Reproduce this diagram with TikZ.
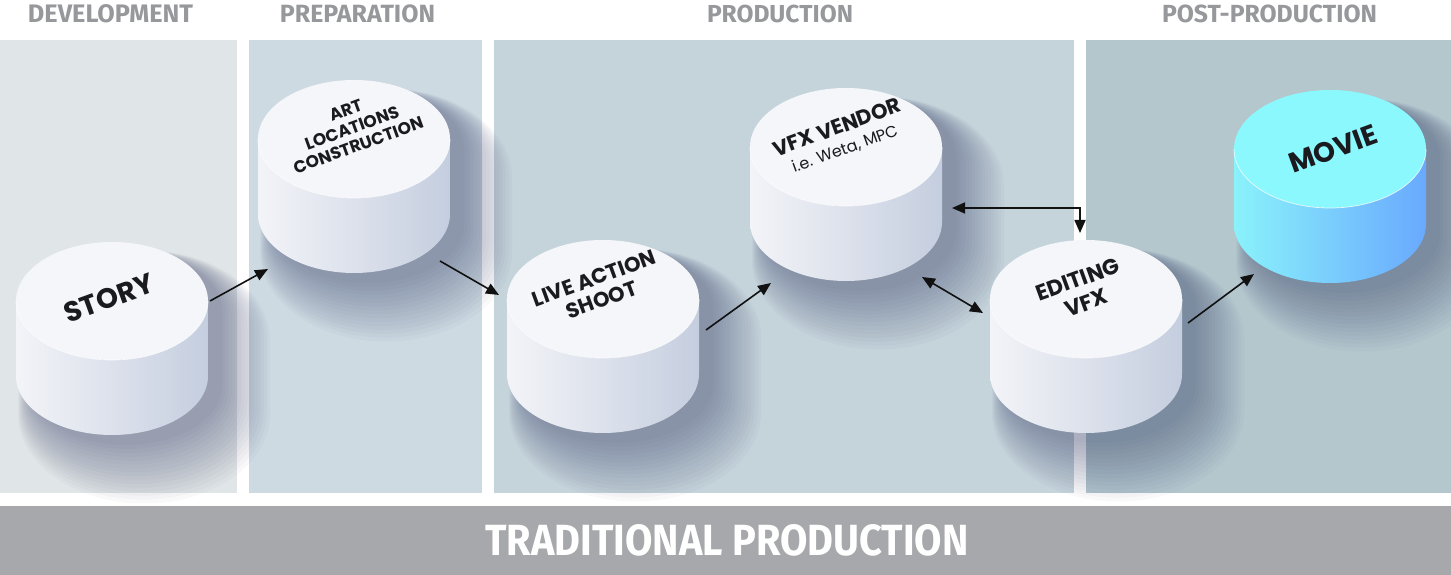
\documentclass[tikz,border=0pt]{standalone}
\usepackage{fontspec}
\setmainfont{Fira Sans}
\newfontfamily\cylfont{Poppins}
\usetikzlibrary{arrows.meta,calc}
\definecolor{devcol}{HTML}{E0E5E7}
\definecolor{prepcol}{HTML}{CDDAE2}
\definecolor{prodcol}{HTML}{C5D4DB}
\definecolor{postcol}{HTML}{B4C7CD}
\definecolor{bannercol}{HTML}{A7A8AB}
\definecolor{hdrcol}{HTML}{97989B}
\definecolor{shadowcol}{HTML}{2A3160}
\definecolor{wL}{HTML}{F3F4F8}
\definecolor{wR}{HTML}{C5CEDF}
\definecolor{wT}{HTML}{F5F6FA}
\definecolor{cL}{HTML}{8AF2FB}
\definecolor{cR}{HTML}{69A9FE}
\definecolor{cT}{HTML}{8BF8FD}
\definecolor{txtcol}{HTML}{1A1A1F}
\definecolor{arrcol}{HTML}{111111}
\newcommand\cylshadow[2]{%
  \foreach \r in {0,2,...,30}{%
    \pgfmathsetmacro\rx{96+\r}\pgfmathsetmacro\ry{59+\r}%
    \pgfmathsetmacro\dx{14+0.6*\r}\pgfmathsetmacro\dy{10+0.95*\r}%
    \fill[shadowcol,opacity=0.028] (#1+\dx-\rx,#2-\dy) -- (#1+\dx-\rx,#2-\dy-75)
      arc[start angle=180,end angle=360,x radius=\rx,y radius=\ry]
      -- (#1+\dx+\rx,#2-\dy)
      arc[start angle=0,end angle=180,x radius=\rx,y radius=\ry] -- cycle;
  }}
\newcommand\drawcyl[3]{%
  \shade[left color=#3L,right color=#3R] (#1-96,#2) -- (#1-96,#2-75)
    arc[start angle=180,end angle=360,x radius=96,y radius=59]
    -- (#1+96,#2)
    arc[start angle=0,end angle=-180,x radius=96,y radius=59] -- cycle;
  \fill[#3T] (#1,#2) ellipse[x radius=96,y radius=59];
  \draw[white,line width=0.7pt,opacity=0.8] (#1+96,#2)
    arc[start angle=0,end angle=-180,x radius=96,y radius=59];
}
\begin{document}
\begin{tikzpicture}[x=1pt,y=1pt,
  hdr/.style={text=hdrcol,font=\bfseries,inner sep=0pt},
  lbl/.style={text=txtcol,rotate=20,align=center,inner sep=0pt},
  conn/.style={draw=arrcol,line width=1.6pt,-{Triangle[length=13pt,width=11pt]}},
  biconn/.style={draw=arrcol,line width=1.6pt,{Triangle[length=13pt,width=11pt]}-{Triangle[length=13pt,width=11pt]}}]
\useasboundingbox (0,0) rectangle (1451,575);
\fill[white] (0,0) rectangle (1451,575);
% panels
\fill[devcol] (0,82) rectangle (237,535);
\fill[prepcol] (249,82) rectangle (482,535);
\fill[prodcol] (494,82) rectangle (1074,535);
\fill[postcol] (1086,82) rectangle (1451,535);
\fill[bannercol] (0,0) rectangle (1451,69);
% headers
\node[hdr] (hdev) at (110.5,561) {\resizebox{165pt}{!}{DEVELOPMENT}};
\node[hdr] (hprep) at (357.5,561) {\resizebox{155pt}{!}{PREPARATION}};
\node[hdr] (hprod) at (780,561) {\resizebox{146pt}{!}{PRODUCTION}};
\node[hdr] (hpost) at (1269.5,561) {\resizebox{215pt}{!}{POST-PRODUCTION}};
\node[text=white,font=\bfseries,inner sep=0pt] (banner) at (727,35) {\resizebox{483pt}{31pt}{TRADITIONAL PRODUCTION}};
% shadows
\cylshadow{112}{274}
\cylshadow{354}{436}
\cylshadow{603}{276}
\cylshadow{846}{428}
\cylshadow{1086}{276}
\cylshadow{1330}{426}
% cylinders
\drawcyl{112}{274}{w}
\drawcyl{354}{436}{w}
\drawcyl{603}{276}{w}
\drawcyl{846}{428}{w}
\drawcyl{1086}{276}{w}
\drawcyl{1330}{426}{c}
% labels
\node[lbl,font=\cylfont\bfseries\fontsize{28}{32}\selectfont] (story) at (109,277) {STORY};
\node[lbl,font=\cylfont\bfseries\fontsize{17}{18.5}\selectfont] (art) at (352,447) {ART\\LOCATIONS\\CONSTRUCTION};
\node[lbl,font=\cylfont\bfseries\fontsize{21}{23}\selectfont] (live) at (598,286) {LIVE ACTION\\SHOOT};
\node[lbl,font=\cylfont\fontsize{21}{21}\selectfont] (vfx) at (841,437) {\bfseries VFX VENDOR\\\fontsize{16}{18}\selectfont i.e. Weta, MPC};
\node[lbl,font=\cylfont\bfseries\fontsize{22}{25}\selectfont] (edit) at (1082,284) {EDITING\\VFX};
\node[lbl,font=\cylfont\bfseries\fontsize{28}{32}\selectfont] (movie) at (1333,426) {MOVIE};
% connector end points
\coordinate (s1) at (210,274);
\coordinate (a1) at (268,306);
\coordinate (a2) at (440,314);
\coordinate (l1) at (499,280);
\coordinate (l2) at (706,245);
\coordinate (v1) at (771,292);
\coordinate (v2) at (922,298);
\coordinate (e1) at (983,262);
\coordinate (v3) at (952,367);
\coordinate (e2) at (1080,342);
\coordinate (e3) at (1188,252);
\coordinate (m1) at (1254,301);
% connectors
\draw[conn] (s1) -- (a1);
\draw[conn] (a2) -- (l1);
\draw[conn] (l2) -- (v1);
\draw[biconn] (v2) -- (e1);
\draw[biconn] (v3) -| (e2);
\draw[conn] (e3) -- (m1);
\end{tikzpicture}
\end{document}
